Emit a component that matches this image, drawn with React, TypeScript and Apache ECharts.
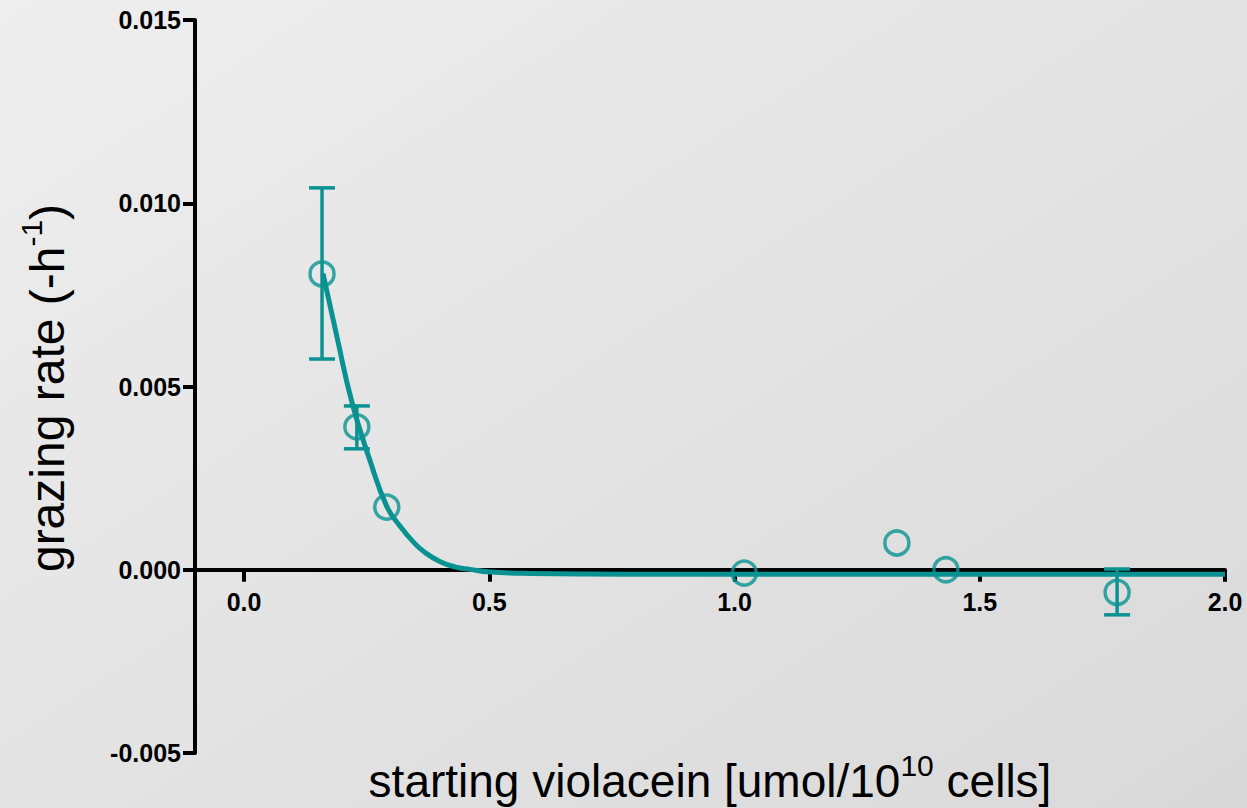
import React, { useEffect, useRef } from "react";
import * as echarts from "echarts";

// Fitted curve: [violacein, grazing rate]
const fitX = [0.161, 0.1895, 0.22, 0.257, 0.291, 0.318, 0.345, 0.369, 0.4, 0.43, 0.461, 0.501, 0.583, 0.787, 2.0];
const fitY = [0.00808, 0.00635, 0.00457, 0.00297, 0.00173, 0.00119, 0.00076, 0.00047, 0.00022, 0.00008, 0.00001, -0.00006, -0.0001, -0.00012, -0.00012];

// Measured points
const pointX = [0.159, 0.23, 0.291, 1.02, 1.331, 1.431, 1.78];
const pointY = [0.00807, 0.0039, 0.00171, -0.00009, 0.00073, 0.0, -0.00062];

// Error bars: x, low, high
const errX = [0.159, 0.23, 1.78];
const errLow = [0.00575, 0.0033, -0.00123];
const errHigh = [0.01042, 0.00447, 0.00002];

const xTicks = [0, 0.5, 1.0, 1.5, 2.0];
const yMin = -0.005;
const yMax = 0.015;
const yStep = 0.005;

const TEAL = "#0a9292";
const FONT = "'Liberation Sans', Arial, Helvetica, sans-serif";

const GRID_TOP = 20;
const GRID_BOTTOM = 55;
const CHART_H = 808;

export default function App() {
  const ref = useRef<HTMLDivElement>(null);
  useEffect(() => {
    if (!ref.current) return;
    const chart = echarts.init(ref.current, null, { renderer: "svg" });
    const tickLabel = { color: "#000", fontWeight: "bold" as const, fontSize: 25, fontFamily: FONT };
    const gridH = CHART_H - GRID_TOP - GRID_BOTTOM;
    // distance from the grid's bottom edge up to the y = 0 line
    const zeroOffset = (gridH * (0 - yMin)) / (yMax - yMin);
    chart.setOption({
      animation: false,
      backgroundColor: new echarts.graphic.LinearGradient(0, 0, 1, 1, [
        { offset: 0, color: "#eeeeee" },
        { offset: 1, color: "#d9d9d9" },
      ]),
      grid: { left: 195, right: 22, top: GRID_TOP, bottom: GRID_BOTTOM },
      xAxis: {
        type: "value",
        min: -0.1,
        max: 2.0,
        offset: -zeroOffset,
        axisLine: { show: true, onZero: false, lineStyle: { color: "#000", width: 4 } },
        axisTick: { show: true, customValues: xTicks, length: 12, lineStyle: { color: "#000", width: 4 } },
        axisLabel: { ...tickLabel, customValues: xTicks, margin: 20, formatter: (v: number) => v.toFixed(1) },
        splitLine: { show: false },
      },
      yAxis: {
        type: "value",
        min: yMin,
        max: yMax,
        interval: yStep,
        axisLine: { show: true, onZero: false, lineStyle: { color: "#000", width: 4 } },
        axisTick: { show: true, length: 12, lineStyle: { color: "#000", width: 4 } },
        axisLabel: { ...tickLabel, margin: 14, formatter: (v: number) => v.toFixed(3) },
        splitLine: { show: false },
      },
      graphic: [
        {
          type: "text",
          x: 47,
          y: 388,
          rotation: Math.PI / 2,
          style: {
            text: "{a|grazing rate (-h}{s|-1}{a|)}",
            align: "center",
            verticalAlign: "middle",
            rich: {
              a: { fontSize: 48, fontFamily: FONT, fill: "#000" },
              s: { fontSize: 30, fontFamily: FONT, fill: "#000", padding: [0, 0, 32, 0] },
            },
          },
        },
        {
          type: "text",
          x: 710,
          y: 781,
          style: {
            text: "{a|starting violacein [umol/10}{s|10}{a| cells]}",
            align: "center",
            verticalAlign: "middle",
            rich: {
              a: { fontSize: 46, fontFamily: FONT, fill: "#000" },
              s: { fontSize: 30, fontFamily: FONT, fill: "#000", padding: [0, 0, 32, 0] },
            },
          },
        },
      ],
      series: [
        {
          type: "line",
          data: fitX.map((x, i) => [x, fitY[i]]),
          smooth: 0.5,
          showSymbol: false,
          lineStyle: { color: TEAL, width: 5 },
          z: 3,
        },
        {
          type: "custom",
          data: errX.map((x, i) => [x, errLow[i], errHigh[i]]),
          renderItem: (params: any, api: any) => {
            const lo = api.coord([api.value(0), api.value(1)]);
            const hi = api.coord([api.value(0), api.value(2)]);
            const hw = 13;
            const style = { stroke: TEAL, lineWidth: 3.5, fill: "none" };
            return {
              type: "group",
              children: [
                { type: "line", shape: { x1: lo[0], y1: lo[1], x2: hi[0], y2: hi[1] }, style },
                { type: "line", shape: { x1: lo[0] - hw, y1: lo[1], x2: lo[0] + hw, y2: lo[1] }, style },
                { type: "line", shape: { x1: hi[0] - hw, y1: hi[1], x2: hi[0] + hw, y2: hi[1] }, style },
              ],
            };
          },
          z: 4,
        },
        {
          type: "scatter",
          data: pointX.map((x, i) => [x, pointY[i]]),
          symbol: "circle",
          symbolSize: 24,
          itemStyle: { color: "rgba(0,0,0,0)", borderColor: TEAL, borderWidth: 3.5 },
          z: 5,
        },
      ],
    });
    return () => chart.dispose();
  }, []);
  return <div ref={ref} style={{ position: "fixed", left: 0, top: 0, width: 1247, height: 808 }} />;
}
